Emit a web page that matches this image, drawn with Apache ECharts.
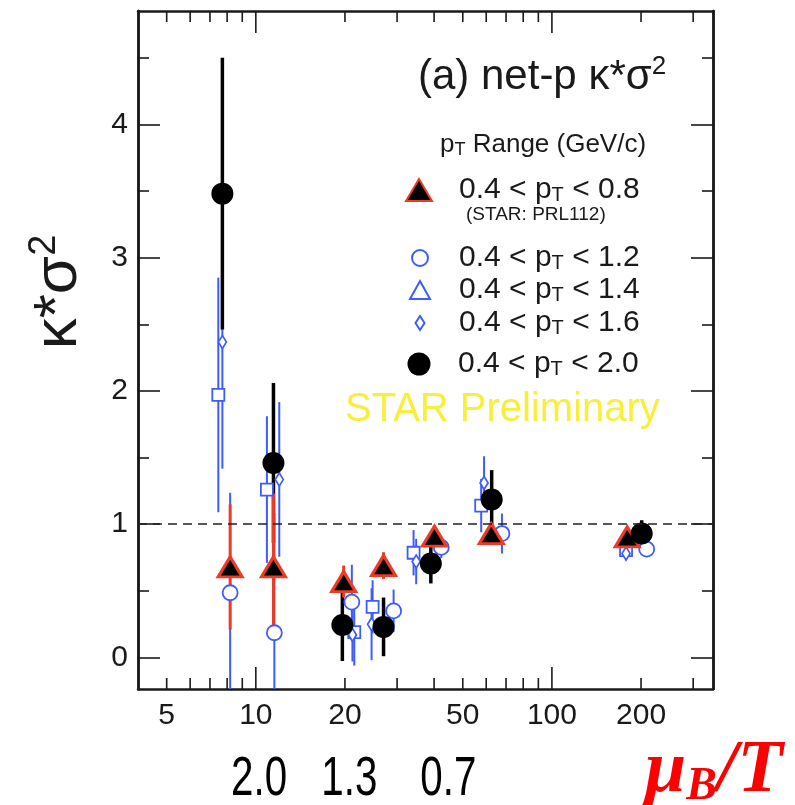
<!DOCTYPE html>
<html><head><meta charset="utf-8">
<script src="https://cdn.jsdelivr.net/npm/echarts@6/dist/echarts.min.js"></script>
<style>html,body{margin:0;padding:0;background:#fff}#c{width:795px;height:805px}</style>
</head><body><div id="c"></div>
<script>
// ---- axis ticks / labels ----
const xMinorTickValues = [5,6,7,8,9,20,30,40,50,60,70,80,90,200,300];
const xMajorTickValues = [10,100];
const xLabelValues = [5,10,20,50,100,200];
const yLabelValues = [0,1,2,3,4];
const yMinorTickValues = [0.5,1.5,2.5,3.5,4.5];
const X_MIN = 4, X_MAX = 350, Y_MIN = -0.236, Y_MAX = 4.85;

// ---- series (x = sqrt(sNN) GeV, y = kappa*sigma^2, err = stat error) ----
const names = ['0.4 < pT < 0.8','0.4 < pT < 1.2','0.4 < pT < 1.4','0.4 < pT < 1.6','0.4 < pT < 2.0'];
const pt08_x = [8.19, 11.47, 19.8, 27.0, 40.1, 62.4, 179.6];
const pt08_y = [0.68, 0.68, 0.57, 0.69, 0.91, 0.93, 0.905];
const pt08_err = [0.47, 0.55, 0.12, 0.10, 0.08, 0.08, 0.06];

const pt12_x = [8.19, 11.55, 21.1, 29.2, 42.3, 67.8, 209];
const pt12_y = [0.486, 0.186, 0.416, 0.35, 0.826, 0.93, 0.813];
const pt12_err = [0.75, 0.9, 0.28, 0.16, 0.08, 0.15, 0.06];

const pt14_x = [7.47, 10.9, 21.5, 24.8, 34.1, 57.7, 178];
const pt14_y = [1.97, 1.26, 0.19, 0.38, 0.786, 1.14, 0.806];
const pt14_err = [0.88, 0.55, 0.25, 0.2, 0.17, 0.2, 0.05];

const pt16_x = [7.71, 12.0, 21.2, 24.6, 34.8, 59.0, 178];
const pt16_y = [2.367, 1.336, 0.17, 0.25, 0.72, 1.31, 0.78];
const pt16_err = [0.95, 0.58, 0.2, 0.27, 0.17, 0.2, 0.05];

const pt20_x = [7.71, 11.47, 19.6, 27.0, 39.0, 62.6, 201];
const pt20_y = [3.48, 1.46, 0.244, 0.23, 0.706, 1.186, 0.93];
const pt20_err = [1.02, 0.6, 0.27, 0.22, 0.15, 0.22, 0.1];

const muBT_labels = ['2.0','1.3','0.7'];
const muBT_energy = [10.26, 20.7, 44.7];

// ---- helpers ----
const lx = v => Math.log10(v);
const pts = (xs, ys) => xs.map((x,i) => [lx(x), ys[i]]);
const errs = (xs, ys, es) => xs.map((x,i) => [lx(x), ys[i]-es[i], ys[i]+es[i]]);
const BLUE = '#3d5cff', RED = '#ec3b26', INK = '#1a1a1a';
const FONT = 'Liberation Sans, Arial, sans-serif';

function errSeries(xs, ys, es, color, width) {
  return {
    type: 'custom', silent: true,
    data: errs(xs, ys, es),
    encode: {x: 0, y: [1, 2]},
    renderItem: function (params, api) {
      const x = api.value(0);
      const lo = Math.max(api.value(1), Y_MIN), hi = Math.min(api.value(2), Y_MAX);
      const p1 = api.coord([x, lo]), p2 = api.coord([x, hi]);
      return {type: 'line', shape: {x1: p1[0], y1: p1[1], x2: p2[0], y2: p2[1]},
              style: {stroke: color, lineWidth: width}};
    }
  };
}

const frameLine = {show: true, onZero: false, lineStyle: {color: INK, width: 2.5}};
const tick = (vals, len) => ({show: true, inside: true, length: len, customValues: vals,
  lineStyle: {color: INK, width: 1.6}});
const baseX = {type: 'value', min: lx(X_MIN), max: lx(X_MAX), splitLine: {show: false},
  axisLine: frameLine, axisTick: {show: false}};
const baseY = {type: 'value', min: Y_MIN, max: Y_MAX, splitLine: {show: false},
  axisLine: frameLine, axisLabel: {show: false}};

const legendRows = [
  {name: names[0], icon: 'triangle', cx: 418, cy: 190, w: 26, h: 22},
  {name: names[1], icon: 'circle', cx: 419, cy: 258, w: 16, h: 16},
  {name: names[2], icon: 'triangle', cx: 419, cy: 290, w: 20, h: 18},
  {name: names[3], icon: 'diamond', cx: 419, cy: 323, w: 9, h: 14},
  {name: names[4], icon: 'circle', cx: 419, cy: 364, w: 23, h: 23}
];
const legends = legendRows.map(r => ({
  data: [{name: r.name, icon: r.icon}],
  left: r.cx - r.w/2, top: r.cy - 15, padding: 0,
  itemWidth: r.w, itemHeight: r.h, selectedMode: false,
  formatter: n => '{sp|}{t|' + n.replace(' pT ', ' p}{sub|T}{t| ') + '}',
  textStyle: {rich: {
    sp: {width: 458 - r.cx - r.w/2 - 5},
    t: {fontSize: 30, fontFamily: FONT, color: INK, lineHeight: 30},
    sub: {fontSize: 20, fontFamily: FONT, color: INK, lineHeight: 12, verticalAlign: 'bottom'}
  }}
}));

const chart = echarts.init(document.getElementById('c'), null, {renderer: 'canvas'});
const option = {
  animation: false,
  backgroundColor: '#fff',
  grid: {left: 138, top: 11, width: 575, height: 678},
  xAxis: [
    Object.assign({}, baseX, {position: 'bottom',
      axisLabel: {show: true, customValues: xLabelValues.map(lx), margin: 12,
        formatter: v => String(Math.round(Math.pow(10, v))),
        fontSize: 30, fontFamily: FONT, color: INK}}),
    Object.assign({}, baseX, {position: 'top', axisLabel: {show: false}})
  ],
  yAxis: [
    Object.assign({}, baseY, {position: 'left', axisTick: tick(yLabelValues, 22),
      axisLabel: {show: true, customValues: yLabelValues, margin: 10,
        fontSize: 30, fontFamily: FONT, color: INK}}),
    Object.assign({}, baseY, {position: 'left', axisTick: tick(yMinorTickValues, 11)}),
    Object.assign({}, baseY, {position: 'right', axisTick: tick(yLabelValues, 22)}),
    Object.assign({}, baseY, {position: 'right', axisTick: tick(yMinorTickValues, 11)})
  ],
  legend: legends,
  title: [{
    text: '{a|(a) net-p κ*σ}{s|2}', left: 418, top: 54, padding: 0,
    textStyle: {rich: {
      a: {fontSize: 42, fontFamily: FONT, fontWeight: 'normal', color: INK, lineHeight: 46},
      s: {fontSize: 26, fontFamily: FONT, fontWeight: 'normal', color: INK, lineHeight: 30, verticalAlign: 'top'}
    }}
  }],
  series: [
    errSeries(pt12_x, pt12_y, pt12_err, BLUE, 2),
    errSeries(pt14_x, pt14_y, pt14_err, BLUE, 2),
    errSeries(pt16_x, pt16_y, pt16_err, BLUE, 2),
    {type: 'scatter', name: names[1], data: pts(pt12_x, pt12_y), symbol: 'circle', symbolSize: 15,
     itemStyle: {color: '#fff', borderColor: BLUE, borderWidth: 1.8, opacity: 1}},
    {type: 'scatter', name: names[2], data: pts(pt14_x, pt14_y), symbol: 'rect', symbolSize: 12,
     itemStyle: {color: '#fff', borderColor: BLUE, borderWidth: 1.8, opacity: 1}},
    {type: 'scatter', name: names[3], data: pts(pt16_x, pt16_y), symbol: 'diamond', symbolSize: [8, 13],
     itemStyle: {color: '#fff', borderColor: BLUE, borderWidth: 1.8, opacity: 1}},
    errSeries(pt20_x, pt20_y, pt20_err, '#000', 3.5),
    errSeries(pt08_x, pt08_y, pt08_err, RED, 3),
    {type: 'scatter', name: names[0], data: pts(pt08_x, pt08_y), symbol: 'triangle', symbolSize: [24, 20],
     itemStyle: {color: '#000', borderColor: RED, borderWidth: 3, opacity: 1},
     markLine: {silent: true, symbol: 'none', label: {show: false},
       lineStyle: {color: '#222', type: [9, 6], width: 1.6}, data: [{yAxis: 1}]}},
    {type: 'scatter', name: names[4], data: pts(pt20_x, pt20_y), symbol: 'circle', symbolSize: 22,
     itemStyle: {color: '#000', opacity: 1}}
  ]
};
chart.setOption(option);

// x tick marks on the bottom and top frame: positions taken from the library's x scale
const graphics = [];
const yBottom = chart.convertToPixel({yAxisIndex: 0}, Y_MIN);
const yTop = chart.convertToPixel({yAxisIndex: 0}, Y_MAX);
function addXTicks(vals, len) {
  vals.forEach(v => {
    const px = chart.convertToPixel({xAxisIndex: 0}, lx(v));
    graphics.push({type: 'line', z: 100, silent: true,
      shape: {x1: px, y1: yBottom, x2: px, y2: yBottom - len}, style: {stroke: INK, lineWidth: 1.6}});
    graphics.push({type: 'line', z: 100, silent: true,
      shape: {x1: px, y1: yTop, x2: px, y2: yTop + len}, style: {stroke: INK, lineWidth: 1.6}});
  });
}
addXTicks(xMinorTickValues, 11);
addXTicks(xMajorTickValues, 22);

// text annotations
graphics.push(
  {type: 'text', x: 440, y: 145, style: {text: '{p|p}{sub|T}{t| Range (GeV/c)}', textVerticalAlign: 'middle',
    rich: {p: {fontSize: 26, fontFamily: FONT, fill: INK, lineHeight: 28},
           t: {fontSize: 26, fontFamily: FONT, fill: INK, lineHeight: 28},
           sub: {fontSize: 18, fontFamily: FONT, fill: INK, lineHeight: 10, verticalAlign: 'bottom'}}}},
  {type: 'text', x: 466, y: 215, style: {text: '(STAR: PRL112)', fontSize: 19, fontFamily: FONT,
    fill: INK, textVerticalAlign: 'middle'}},
  {type: 'text', x: 345, y: 410, style: {text: 'STAR Preliminary', fontSize: 40, fontFamily: FONT,
    fill: '#f7ef3c', textVerticalAlign: 'middle'}},
  {type: 'text', x: 59, y: 292, rotation: Math.PI / 2, style: {text: '{k|κ*σ}{s|2}',
    textAlign: 'center', textVerticalAlign: 'middle',
    rich: {k: {fontSize: 62, fontFamily: FONT, fill: INK, lineHeight: 66},
           s: {fontSize: 38, fontFamily: FONT, fill: INK, lineHeight: 40, verticalAlign: 'top'}}}},
  {type: 'text', x: 645, y: 772, style: {text: '{m|μ}{b|B}{m|/T}', textVerticalAlign: 'middle',
    rich: {m: {fontSize: 74, fontFamily: 'Liberation Serif, serif', fontStyle: 'italic', fontWeight: 'bold', fill: '#f00', lineHeight: 76},
           b: {fontSize: 46, fontFamily: 'Liberation Serif, serif', fontStyle: 'italic', fontWeight: 'bold', fill: '#f00', lineHeight: 34, verticalAlign: 'bottom'}}}}
);
muBT_labels.forEach((t, i) => {
  const px = chart.convertToPixel({xAxisIndex: 0}, lx(muBT_energy[i]));
  graphics.push({type: 'text', x: px, y: 780, scaleX: 0.72, style: {text: t, fontSize: 56, fontFamily: FONT,
    fill: '#000', textAlign: 'center', textVerticalAlign: 'middle'}});
});
chart.setOption({graphic: graphics});
</script></body></html>
